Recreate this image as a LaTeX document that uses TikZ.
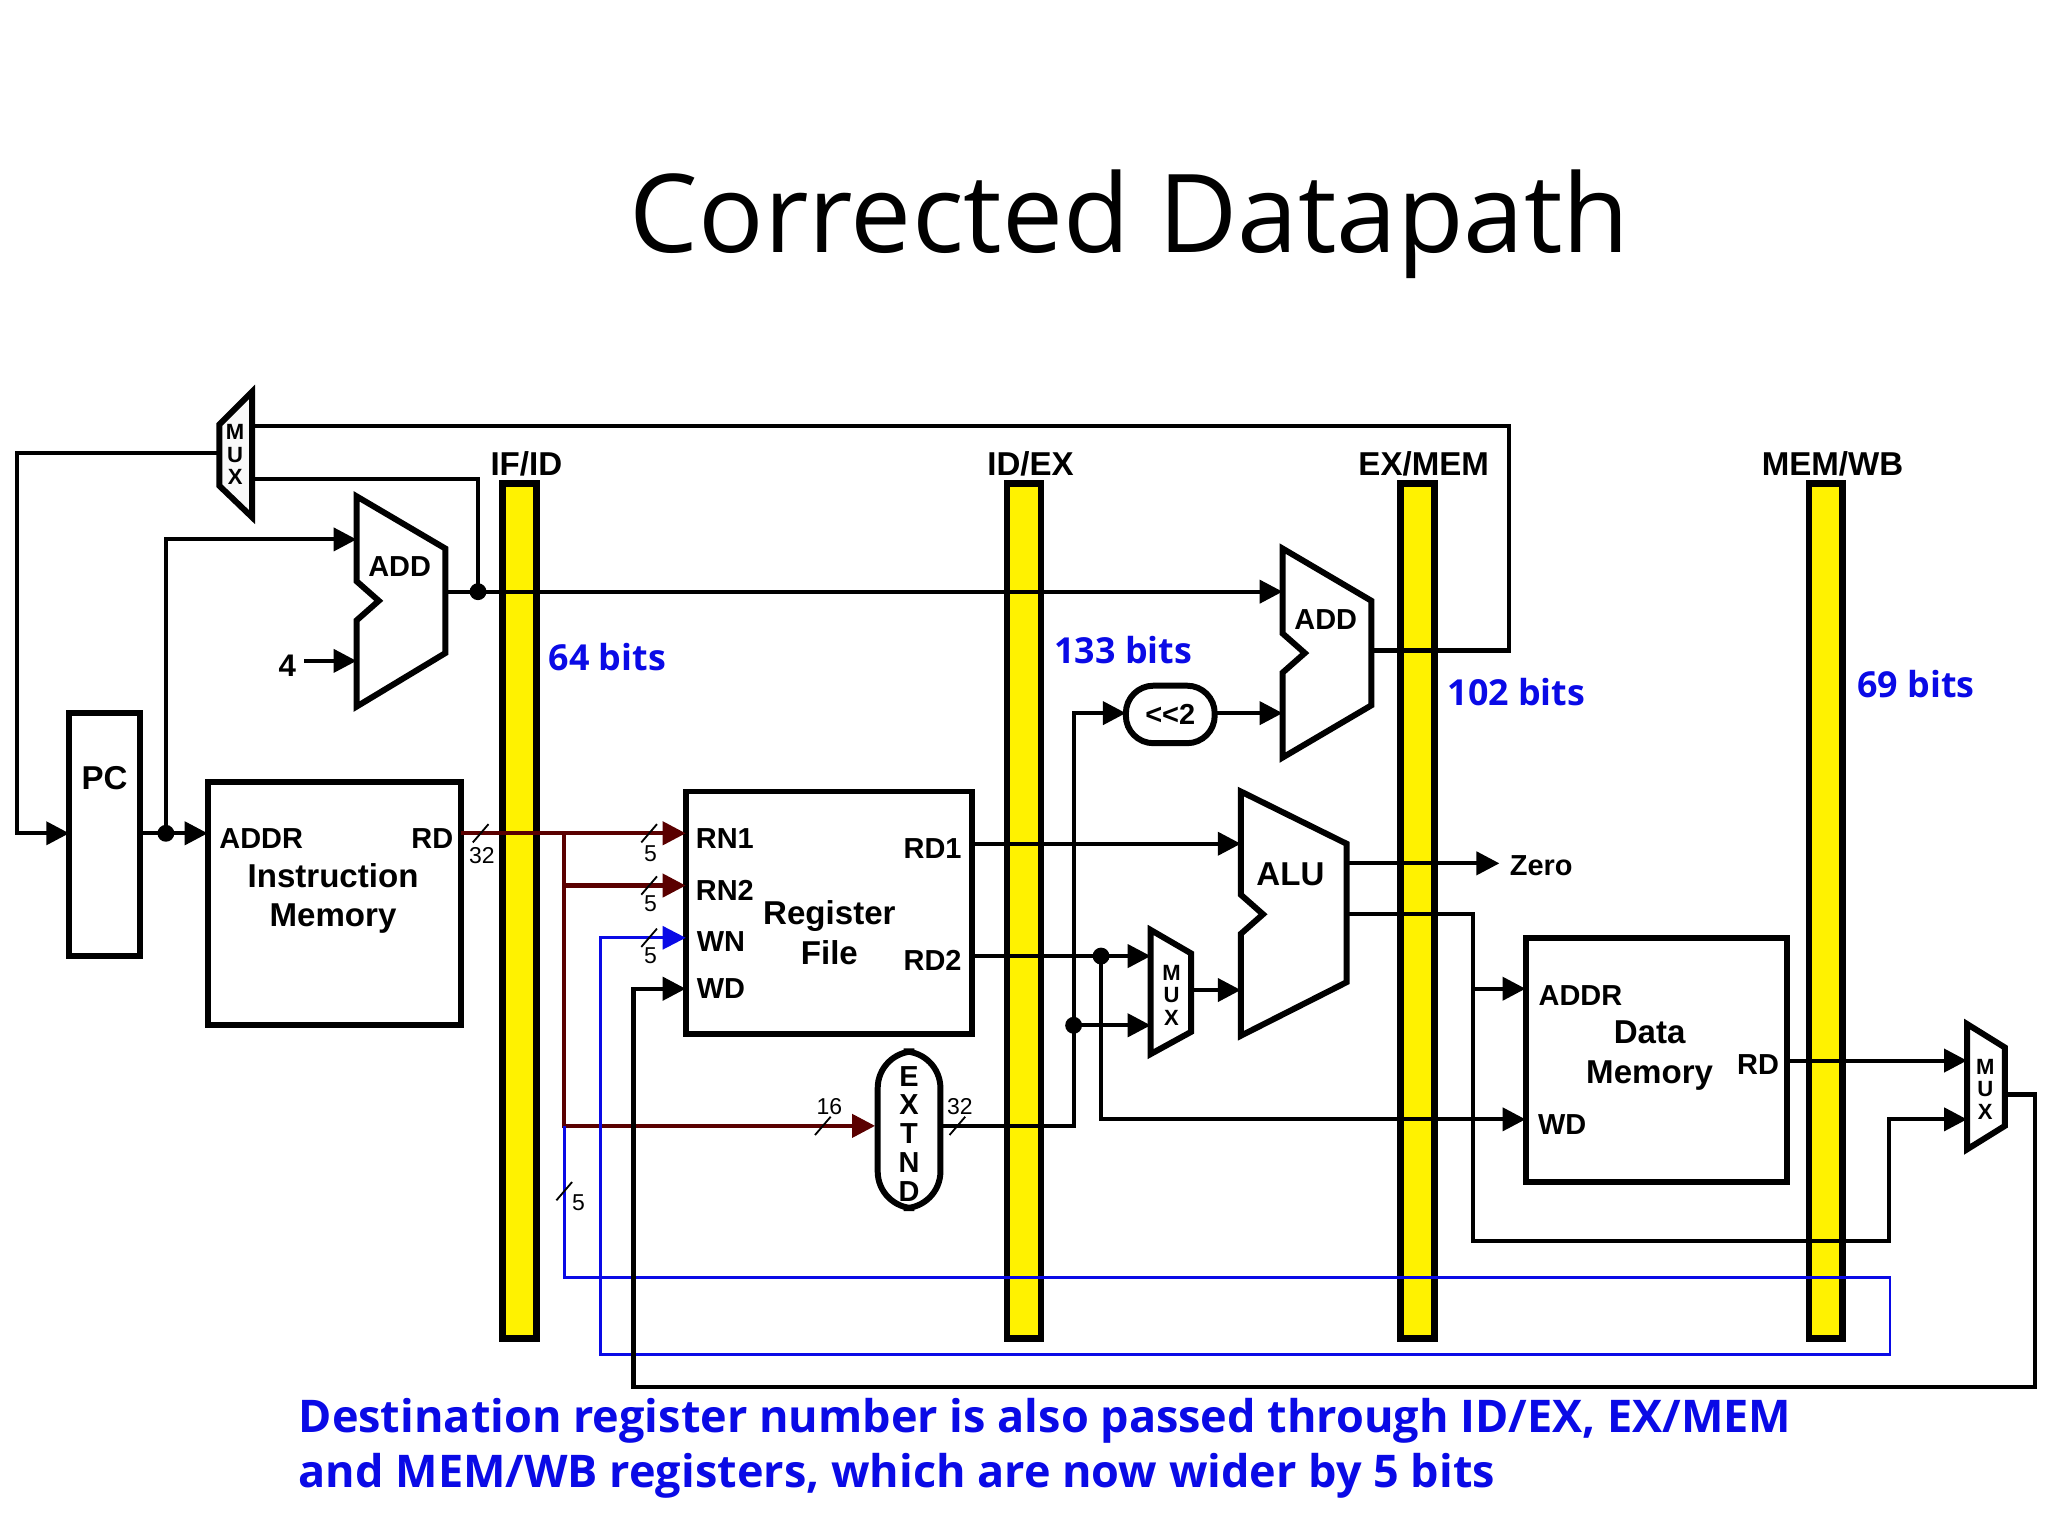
\documentclass[tikz,border=0pt]{standalone}
\usepackage{fontspec}
\setmainfont{Open Sans}
\setsansfont{Liberation Sans}
\usetikzlibrary{arrows.meta,calc}
\definecolor{wirered}{RGB}{90,0,0}
\definecolor{noteblue}{RGB}{10,10,230}
\tikzset{
  wire/.style={line width=0.9pt},
  arr/.style={wire,-{Triangle[length=5pt,width=5pt]}},
  blk/.style={line width=1.3pt},
  bar/.style={line width=1.5pt,fill=yellow},
  lbl/.style={font=\sffamily\bfseries\fontsize{6.3}{7}\selectfont,inner sep=0pt},
  big/.style={font=\sffamily\bfseries\fontsize{7.2}{8.6}\selectfont,align=center,inner sep=0pt},
  busnum/.style={font=\sffamily\fontsize{5}{6}\selectfont,inner sep=0pt,text=black},
  bits/.style={font=\bfseries\fontsize{7.8}{9}\selectfont,text=noteblue,inner sep=0pt},
  dot/.style={circle,fill,inner sep=1.3pt},
  buswidth/.style={line width=0.4pt}
}
\begin{document}
\begin{tikzpicture}[x=0.01cm,y=-0.01cm]
\useasboundingbox (0,0) rectangle (1568,1176);

% title
\node[font=\fontsize{23.7}{28}\selectfont] (title) at (865,172) {Corrected Datapath};

% pipeline registers
\foreach \x/\name in {398/IF\slash ID,784/ID\slash EX,1085/EX\slash MEM,1398/MEM\slash WB}{
  \draw[bar] (\x-13,370) rectangle (\x+13,1025);
  \node[lbl,font=\sffamily\bfseries\fontsize{7.2}{8}\selectfont] at (\x+5,355) {\name};
}
\node[bits] at (465,503) {64 bits};
\node[bits] at (860,498) {133 bits};
\node[bits] at (1161,530) {102 bits};
\node[bits] at (1467,524) {69 bits};

% blocks
\draw[blk] (53,546) rectangle (107,732);
\node[big] (pc) at (80,596) {PC};
\draw[blk] (159,599) rectangle (353,785);
\node[lbl] at (200,642) {ADDR};
\node[lbl] at (331,642) {RD};
\node[big] (imem) at (255,688) {Instruction\\Memory};

\draw[blk] (525,606) rectangle (744,792);
\node[lbl] at (555,642) {RN1};
\node[lbl] at (555,682) {RN2};
\node[lbl] at (552,721) {WN};
\node[lbl] at (552,757) {WD};
\node[big] (rf) at (635,714) {Register\\File};
\node[lbl] at (714,650) {RD1};
\node[lbl] at (714,735) {RD2};

\draw[blk] (1168,718) rectangle (1368,905);
\node[lbl] at (1210,762) {ADDR};
\node[big] (dmem) at (1263,808) {Data\\Memory};
\node[lbl] at (1346,815) {RD};
\node[lbl] at (1196,861) {WD};

% adders and alu
\draw[blk] (273,380) -- (341,420) -- (341,500) -- (273,541) -- (273,475) -- (290,460) -- (273,445) -- cycle;
\node[lbl] (add1) at (306,434) {ADD};
\draw[blk] (982,420) -- (1050,460) -- (1050,540) -- (982,580) -- (982,515) -- (999,500) -- (982,485) -- cycle;
\node[lbl] (add2) at (1015,474) {ADD};
\draw[blk] (950,606) -- (1031,646) -- (1031,752) -- (950,793) -- (950,715) -- (967,700) -- (950,685) -- cycle;
\node[big] (alu) at (988,669) {ALU};

\node[blk,draw,rounded corners=6pt,minimum width=0.68cm,minimum height=0.44cm,lbl] (shl) at (896,547) {{<}{<}2};
\node[blk,draw,rounded corners=8pt,minimum width=0.48cm,minimum height=1.2cm] (extnd) at (696,865) {};
\foreach \c [count=\i] in {E,X,T,N,D}
  \node[lbl] at (696,802+\i*22) {\c};

% muxes
\draw[blk,fill=white!95!gray] (193,300) -- (193,396) -- (168,372) -- (168,325) -- cycle;
\draw[blk] (881,712) -- (912,730) -- (912,790) -- (881,807) -- cycle;
\draw[blk] (1506,784) -- (1535,802) -- (1535,862) -- (1506,880) -- cycle;
\foreach \x/\y in {180/331,897/745,1520/817}{
  \node[lbl,font=\sffamily\bfseries\fontsize{4.8}{5}\selectfont] at (\x,\y) {M};
  \node[lbl,font=\sffamily\bfseries\fontsize{4.8}{5}\selectfont] at (\x,\y+17) {U};
  \node[lbl,font=\sffamily\bfseries\fontsize{4.8}{5}\selectfont] at (\x,\y+34) {X};
}

% fetch wires
\draw[arr] (107,638) -- (159,638);
\node[dot] at (127,638) {};
\draw[arr] (127,638) -- (127,413) -- (273,413);
\draw[arr] (168,347) -- (13,347) -- (13,638) -- (53,638);
\node[lbl,font=\sffamily\bfseries\fontsize{6.8}{7}\selectfont] (four) at (220,510) {4};
\draw[arr] (233,506) -- (273,506);
\draw[arr] (341,453) -- (982,453);
\node[dot] at (366,453) {};
\draw[wire] (366,453) -- (366,367) -- (193,367);
\draw[wire] (1050,498) -- (1155,498) -- (1155,326) -- (193,326);

% instruction fields
\draw[arr,wirered] (353,638) -- (525,638);
\draw[arr,wirered] (432,638) -- (432,678) -- (525,678);
\draw[arr,wirered] (432,678) -- (432,862) -- (670,862);

% destination register
\draw[arr,noteblue,line width=0.6pt] (432,862) -- (432,978) -- (1447,978) -- (1447,1037) -- (460,1037) -- (460,718) -- (525,718);

% write back
\draw[arr] (1535,838) -- (1558,838) -- (1558,1062) -- (485,1062) -- (485,757) -- (525,757);

% execute
\draw[arr] (744,646) -- (950,646);
\draw[arr] (744,732) -- (881,732);
\node[dot] at (843,732) {};
\draw[arr] (843,732) -- (843,857) -- (1168,857);
\draw[arr] (720,862) -- (822,862) -- (822,546) -- (862,546);
\node[dot] at (822,785) {};
\draw[arr] (822,785) -- (881,785);
\draw[arr] (930,546) -- (982,546);
\draw[arr] (912,758) -- (950,758);
\draw[arr] (1031,661) -- (1148,661);
\node[lbl] (zero) at (1180,663) {Zero};

% memory
\draw[arr] (1031,700) -- (1128,700) -- (1128,757) -- (1168,757);
\draw[arr] (1128,757) -- (1128,950) -- (1446,950) -- (1446,857) -- (1506,857);
\draw[arr] (1368,812) -- (1506,812);

% bus widths
\foreach \x/\y/\n/\dx/\dy in {368/638/32/1/17, 497/638/5/1/16, 497/678/5/1/14, 630/862/16/5/-15, 733/862/32/2/-15, 432/912/5/11/9, 497/718/5/1/14}{
  \draw[buswidth] (\x-6,\y+7) -- (\x+6,\y-7);
  \node[busnum] at (\x+\dx,\y+\dy) {\n};
}

% note
\node[anchor=west,align=left,font=\bfseries\fontsize{9.8}{12}\selectfont,text=noteblue,inner sep=0pt] (note) at (228,1109)
  {Destination register number is also passed through ID/EX, EX/MEM\\and MEM/WB registers, which are now wider by 5 bits};
\end{tikzpicture}
\end{document}
